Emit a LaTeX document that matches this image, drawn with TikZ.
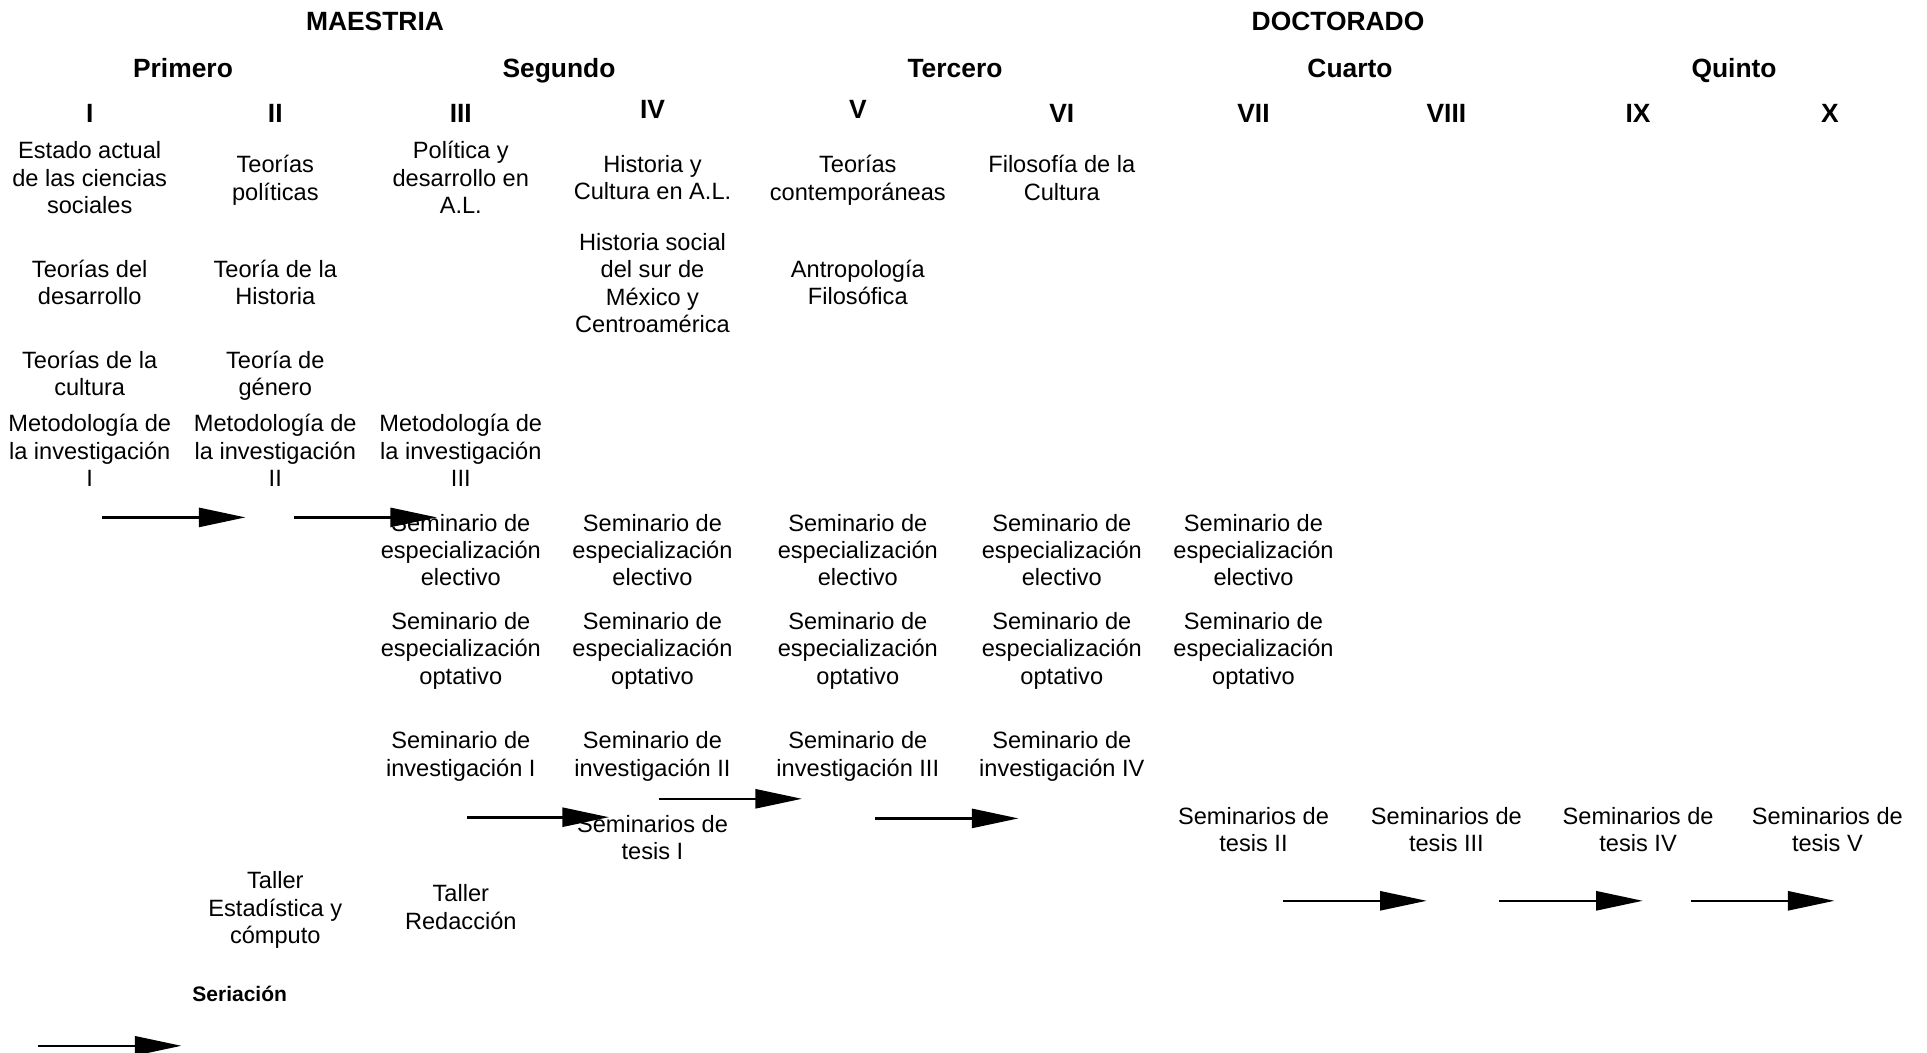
\documentclass[tikz,border=0pt]{standalone}
\usepackage{fontspec}
\setmainfont{Liberation Sans}
\usetikzlibrary{arrows.meta}

\tikzset{
  curso/.style={align=center, inner sep=0pt, yshift=-1.8pt, font=\fontsize{11.8}{13.7}\selectfont,
    execute at begin node=\strut, execute at end node=\strut},
  titulo/.style={inner sep=0pt, text height=9.5pt, text depth=0pt,
    font=\bfseries\fontsize{13.2}{15}\selectfont},
  flecha/.style={line width=1.3pt, -{Triangle[length=23.3pt,width=9.5pt]}}
}

\begin{document}
\begin{tikzpicture}[x=0.5pt,y=-0.5pt]
    \useasboundingbox (0,0) rectangle (1927,1053);

    \node[titulo] (maestria) at (375,20.9) {MAESTRIA};
    \node[titulo] (doctorado) at (1338,20.9) {DOCTORADO};

    \node[titulo] (primero) at (183,67.6) {Primero};
    \node[titulo] (segundo) at (559,67.6) {Segundo};
    \node[titulo] (tercero) at (955,67.6) {Tercero};
    \node[titulo] (cuarto) at (1350,67.6) {Cuarto};
    \node[titulo] (quinto) at (1734,67.6) {Quinto};

    \node[titulo] (semI) at (89.7,113.1) {I};
    \node[titulo] (semII) at (275.3,113.1) {II};
    \node[titulo] (semIII) at (460.8,113.1) {III};
    \node[titulo] (semIV) at (652.5,109.4) {IV};
    \node[titulo] (semV) at (857.8,109.4) {V};
    \node[titulo] (semVI) at (1061.8,113.1) {VI};
    \node[titulo] (semVII) at (1253.5,113.1) {VII};
    \node[titulo] (semVIII) at (1446.4,113.1) {VIII};
    \node[titulo] (semIX) at (1638.1,113.1) {IX};
    \node[titulo] (semX) at (1829.8,113.1) {X};

    \node[curso] (estado) at (89.7,178.2) {Estado actual\\de las ciencias\\sociales};
    \node[curso] (teodes) at (89.7,282.6) {Teorías del\\desarrollo};
    \node[curso] (teocult) at (89.7,373.6) {Teorías de la\\cultura};
    \node[curso] (metI) at (89.7,451) {Metodología de\\la investigación\\I};

    \node[curso] (teopol) at (275.3,178.2) {Teorías\\políticas};
    \node[curso] (teohist) at (275.3,282.6) {Teoría de la\\Historia};
    \node[curso] (genero) at (275.3,373.6) {Teoría de\\género};
    \node[curso] (metII) at (275.3,451) {Metodología de\\la investigación\\II};
    \node[curso] (tallerest) at (275.3,908.2) {Taller\\Estadística y\\cómputo};

    \node[curso] (politica) at (460.8,178.2) {Política y\\desarrollo en\\A.L.};
    \node[curso] (metIII) at (460.8,451) {Metodología de\\la investigación\\III};
    \node[curso] (invI) at (460.8,754.5) {Seminario de\\investigación I};
    \node[curso] (tallerred) at (460.8,907.5) {Taller\\Redacción};

    \node[curso] (histcult) at (652.5,178.2) {Historia y\\Cultura en A.L.};
    \node[curso] (histsur) at (652.5,283.3) {Historia social\\del sur de\\México y\\Centroamérica};
    \node[curso] (invII) at (652.5,754.5) {Seminario de\\investigación II};
    \node[curso] (tesisI) at (652.5,838.1) {Seminarios de\\tesis I};

    \node[curso] (contemp) at (857.8,178.2) {Teorías\\contemporáneas};
    \node[curso] (antrop) at (857.8,282.6) {Antropología\\Filosófica};
    \node[curso] (invIII) at (857.8,754.5) {Seminario de\\investigación III};

    \node[curso] (filocult) at (1061.8,178.2) {Filosofía de la\\Cultura};
    \node[curso] (invIV) at (1061.8,754.5) {Seminario de\\investigación IV};

    \foreach \c/\x in {III/460.8,IV/652.5,V/857.8,VI/1061.8,VII/1253.5}{
        \node[curso] (elec\c) at (\x,550.5) {Seminario de\\especialización\\electivo};
        \node[curso] (opt\c) at (\x,648.9) {Seminario de\\especialización\\optativo};
    }

    \foreach \c/\x in {II/1253.5,III/1446.4,IV/1638.1,V/1827.4}
        \node[curso] (tesis\c) at (\x,830.1) {Seminarios de\\tesis \c};

    \node[inner sep=0pt, text height=7.5pt, text depth=0pt,
        font=\bfseries\fontsize{10.5}{12.5}\selectfont] (seriacion) at (239.7,994.2) {Seriación};

    \foreach \i/\xa/\xb/\y in {1/102/245.5/517.4, 2/293.7/437/517.4, 3/467/609/817.2,
        4/658.7/802/798.8, 5/875/1018.5/818.4, 6/1283/1426.7/900.8,
        7/1499.3/1642.8/900.8, 8/1691/1834.5/900.8, 9/38.1/181.5/1045.8}{
        \coordinate (ini\i) at (\xa,\y);
        \coordinate (fin\i) at (\xb,\y);
        \draw[flecha] (ini\i) -- (fin\i);
    }

\end{tikzpicture}
\end{document}
